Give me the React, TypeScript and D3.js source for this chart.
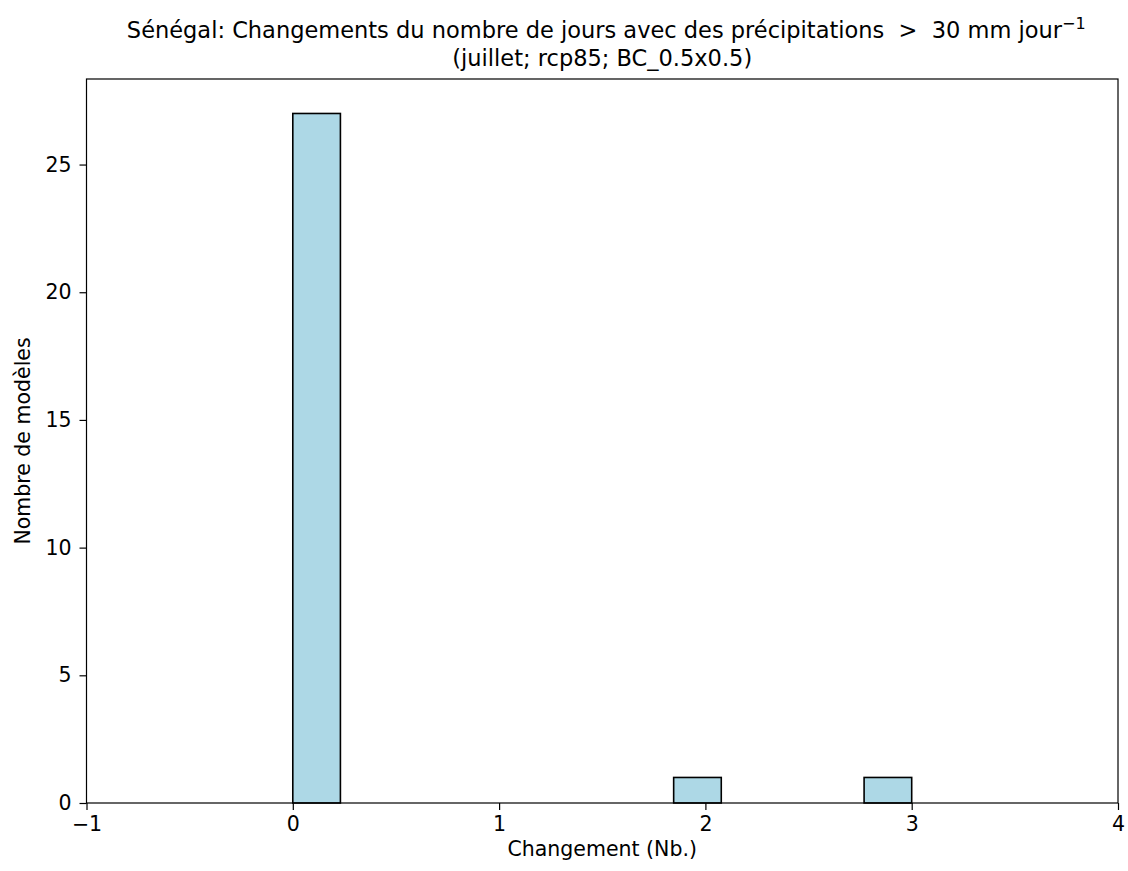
import * as d3 from "d3";
import { useEffect, useRef } from "react";

// histogram: 13 bins over [0, 3]
const binStart = 0;
const binEnd = 3;
const binCount = 13;
const counts = [27, 0, 0, 0, 0, 0, 0, 0, 1, 0, 0, 0, 1];

const xTicks = [-1, 0, 1, 2, 3, 4];
const yTicks = [0, 5, 10, 15, 20, 25];

const titleLine1 = "Sénégal: Changements du nombre de jours avec des précipitations \u00a0>\u00a0 30 mm jour";
const titleSup = "−1";
const titleLine2 = "(juillet; rcp85; BC_0.5x0.5)";
const xLabel = "Changement (Nb.)";
const yLabel = "Nombre de modèles";

export default function App() {
  const width = 1128;
  const height = 871;
  const marginTop = 79;
  const marginRight = 10;
  const marginBottom = 68;
  const marginLeft = 86.5;

  const svgRef = useRef<SVGSVGElement>(null);

  useEffect(() => {
    const svgEl = d3.select(svgRef.current);
    svgEl.selectAll("*").remove();

    const font = "'DejaVu Sans', sans-serif";
    const fs = 20.5;
    const binW = (binEnd - binStart) / binCount;
    const bins = counts.map((c, i) => ({ x0: binStart + i * binW, x1: binStart + (i + 1) * binW, c }));

    const xScale = d3.scaleLinear([-1, 4], [marginLeft, width - marginRight]);
    const yMax = d3.max(counts)! * 1.05;
    const yScale = d3.scaleLinear([0, yMax], [height - marginBottom, marginTop]);

    // bars
    svgEl.append("g")
      .selectAll("rect")
      .data(bins.filter(b => b.c > 0))
      .join("rect")
      .attr("x", d => xScale(d.x0))
      .attr("y", d => yScale(d.c))
      .attr("width", d => xScale(d.x1) - xScale(d.x0))
      .attr("height", d => yScale(0) - yScale(d.c))
      .attr("fill", "#add8e6")
      .attr("stroke", "#000")
      .attr("stroke-width", 1.6);

    const xAxis = d3.axisBottom(xScale).tickValues(xTicks).tickSize(7).tickPadding(6)
      .tickFormat(d => d3.format("d")(d as number).replace("-", "−"));
    const yAxis = d3.axisLeft(yScale).tickValues(yTicks).tickSize(7).tickPadding(8);

    const gx = svgEl.append("g")
      .attr("transform", `translate(0, ${height - marginBottom})`)
      .call(xAxis);
    const gy = svgEl.append("g")
      .attr("transform", `translate(${marginLeft}, 0)`)
      .call(yAxis);

    [gx, gy].forEach(g => {
      g.select(".domain").remove();
      g.selectAll(".tick line").attr("stroke", "#000").attr("stroke-width", 1.2);
      g.selectAll("text")
        .attr("font-family", font)
        .attr("font-size", fs)
        .attr("fill", "#000");
    });

    // frame
    svgEl.append("rect")
      .attr("x", marginLeft)
      .attr("y", marginTop)
      .attr("width", width - marginRight - marginLeft)
      .attr("height", height - marginBottom - marginTop)
      .attr("fill", "none")
      .attr("stroke", "#000")
      .attr("stroke-width", 1.2);

    // axis labels
    svgEl.append("text")
      .attr("x", (marginLeft + width - marginRight) / 2)
      .attr("y", 856)
      .attr("text-anchor", "middle")
      .attr("font-family", font)
      .attr("font-size", fs)
      .text(xLabel);

    svgEl.append("text")
      .attr("transform", `translate(30, ${(marginTop + height - marginBottom) / 2}) rotate(-90)`)
      .attr("text-anchor", "middle")
      .attr("font-family", font)
      .attr("font-size", fs)
      .text(yLabel);

    // title
    const cx = (marginLeft + width - marginRight) / 2;
    const t1 = svgEl.append("text")
      .attr("x", cx + 4)
      .attr("y", 38)
      .attr("text-anchor", "middle")
      .attr("font-family", font)
      .attr("font-size", 22.5);
    t1.append("tspan").text(titleLine1);
    t1.append("tspan").attr("dy", -9).attr("font-size", 16).text(titleSup);

    svgEl.append("text")
      .attr("x", cx)
      .attr("y", 66)
      .attr("text-anchor", "middle")
      .attr("font-family", font)
      .attr("font-size", 22.5)
      .text(titleLine2);
  }, []);

  return (
    <svg
      ref={svgRef}
      width={width}
      height={height}
      style={{ position: "absolute", left: 0, top: 0, background: "#fff" }}
      xmlns="http://www.w3.org/2000/svg"
    >
    </svg>
  );
}
